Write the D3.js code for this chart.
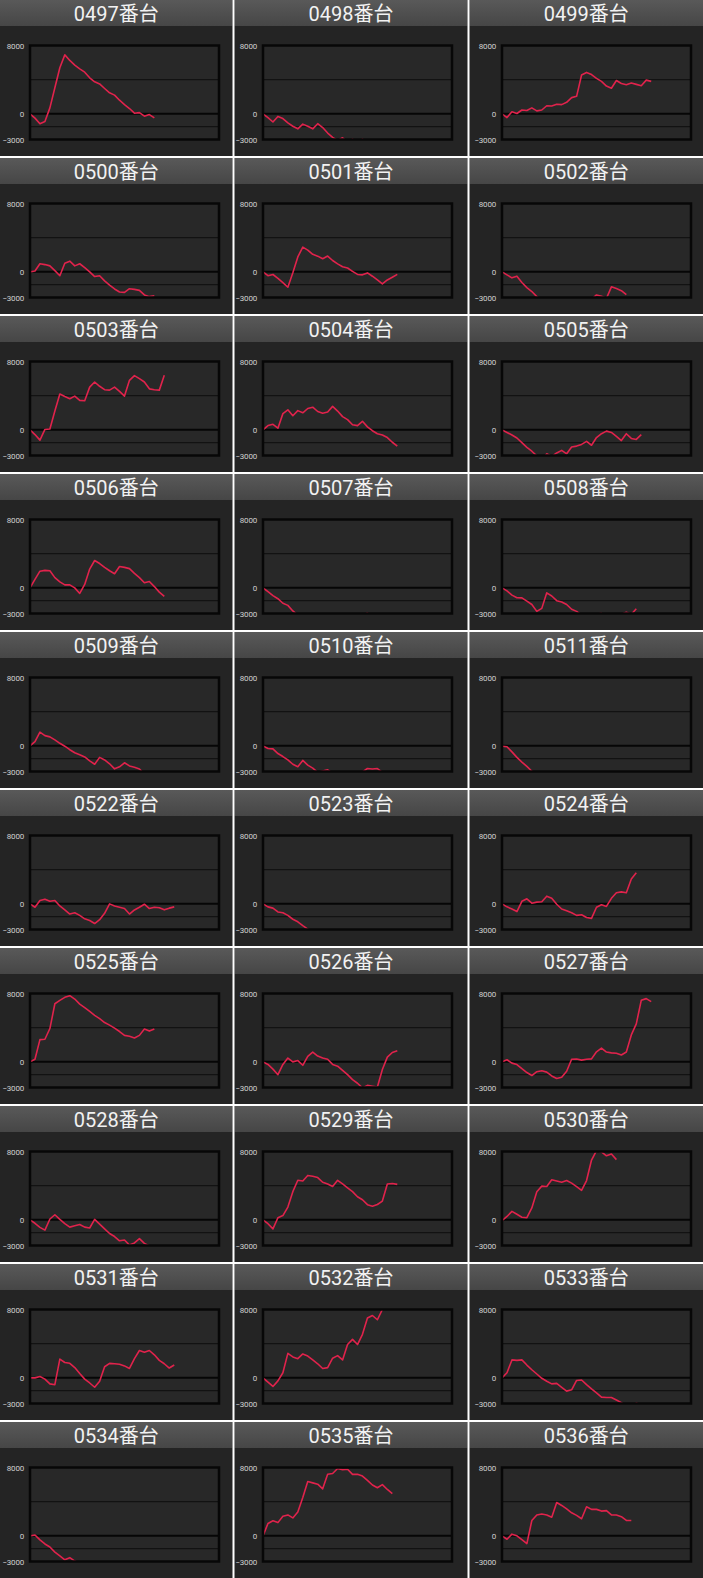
<!DOCTYPE html>
<html><head><meta charset="utf-8">
<script src="https://cdn.jsdelivr.net/npm/d3@7"></script>
<style>html,body{margin:0;padding:0;background:#242424;overflow:hidden}</style>
</head><body><svg id="c"></svg>
<script>
const titles = ["0497番台","0498番台","0499番台","0500番台","0501番台","0502番台","0503番台","0504番台","0505番台","0506番台","0507番台","0508番台","0509番台","0510番台","0511番台","0522番台","0523番台","0524番台","0525番台","0526番台","0527番台","0528番台","0529番台","0530番台","0531番台","0532番台","0533番台","0534番台","0535番台","0536番台"];
const yTicks = [8000, 0, -3000];
const gridValues = [4000, -1500];
const zeroValue = 0;
const xMax = 38;

const s0497 = [0,-500,-1150,-900,700,3050,5400,6900,6250,5700,5270,4880,4220,3750,3500,2970,2460,2190,1600,1090,625,80,150,-270,-80,-470];
const s0498 = [0,-450,-950,-300,-550,-1050,-1450,-1750,-1200,-1450,-1750,-1150,-1600,-2250,-2750,-3100,-2800,-3300,-2950,-3300,-2950,-3300];
const s0499 = [0,-430,250,40,450,400,700,350,450,950,920,1130,1080,1350,1900,2050,4550,4850,4600,4150,3800,3250,3000,3900,3550,3400,3600,3450,3300,3950,3800];
const s0500 = [0,100,950,850,700,150,-450,1000,1250,700,950,500,0,-550,-450,-1050,-1550,-2000,-2350,-2400,-1970,-2050,-2170,-2700,-2900,-2800];
const s0501 = [0,-450,-310,-750,-1250,-1800,-100,1750,2900,2550,2050,1840,1530,1850,1330,940,600,450,50,-300,-350,-120,-510,-940,-1400,-950,-630,-300];
const s0502 = [0,-350,-700,-500,-1250,-1850,-2300,-2900,-3300,-3700,-4100,-4300,-4000,-4500,-4200,-3900,-3600,-3300,-3200,-2700,-2850,-3100,-1750,-1950,-2200,-2650];
const s0503 = [0,-550,-1200,50,100,2200,4200,3900,3650,3950,3450,3400,5000,5600,5100,4700,4650,5000,4500,3950,5800,6350,6000,5600,4800,4700,4650,6400];
const s0504 = [0,500,650,200,1900,2350,1650,2250,2000,2500,2650,2150,1950,2100,2750,2200,1550,1200,600,500,1000,350,-100,-450,-600,-900,-1450,-1900];
const s0505 = [0,-300,-600,-950,-1500,-2050,-2500,-3050,-3500,-2800,-3100,-2700,-2400,-2800,-2000,-1900,-1700,-1350,-1800,-900,-450,-150,-300,-750,-1250,-450,-1000,-1120,-550];
const s0506 = [0,1000,1950,2050,2000,1200,700,350,350,0,-650,400,2200,3200,2850,2400,2000,1650,2500,2400,2250,1700,1200,600,750,150,-500,-1000];
const s0507 = [0,-450,-900,-1270,-1800,-2050,-2700,-3200,-3500,-3900,-4300,-4100,-4600,-4400,-4000,-3800,-4200,-3900,-3600,-3400,-3200,-2950,-3300];
const s0508 = [0,-350,-850,-1150,-1170,-1550,-1950,-2750,-2400,-580,-950,-1500,-1650,-1950,-2500,-2750,-3200,-3500,-3300,-3100,-2980,-3300,-3600,-3400,-3100,-2850,-3100,-2450];
const s0509 = [0,500,1600,1200,1050,700,300,-40,-450,-800,-1050,-1300,-1750,-2150,-1350,-1650,-2100,-2690,-2450,-1980,-2350,-2500,-2700,-3300];
const s0510 = [0,-300,-350,-900,-1250,-1650,-2150,-2450,-1700,-2250,-2600,-3100,-2950,-2800,-3200,-3700,-4000,-3800,-3500,-3300,-3050,-2650,-2700,-2650,-3100];
const s0511 = [-50,-100,-700,-1350,-1900,-2400,-2970,-3400];
const s0522 = [0,-400,400,550,300,400,-240,-700,-1190,-1050,-1350,-1750,-1950,-2300,-1850,-1100,0,-250,-400,-550,-1190,-710,-400,-40,-550,-400,-450,-700,-500,-350];
const s0523 = [0,-350,-500,-950,-1050,-1350,-1800,-2100,-2550,-2950,-3400];
const s0524 = [0,-350,-600,-900,300,590,80,200,250,900,650,-50,-600,-800,-1050,-1350,-1270,-1600,-1700,-400,-100,-300,650,1300,1400,1300,2900,3640];
const s0525 = [0,300,2600,2650,3900,6800,7200,7550,7750,7350,6750,6350,5900,5450,5050,4600,4300,3950,3550,3100,3000,2800,3100,3850,3600,3840];
const s0526 = [0,-300,-850,-1500,-300,450,0,150,-400,650,1150,680,450,300,-300,-500,-1000,-1500,-2080,-2500,-3050,-2750,-2850,-2950,-900,550,1100,1300];
const s0527 = [0,250,-150,-310,-800,-1250,-1600,-1150,-1050,-1200,-1650,-1950,-1800,-1100,300,330,200,300,350,1180,1600,1150,1050,1000,800,1150,3150,4450,7200,7400,7050];
const s0528 = [0,-400,-880,-1200,100,600,50,-450,-850,-700,-550,-850,-950,50,-500,-1050,-1600,-1950,-2450,-2350,-2950,-2700,-2200,-2750,-3050];
const s0529 = [0,-450,-1050,250,500,1500,3300,4630,4550,5200,5100,4950,4400,4200,3900,4630,4200,3750,3300,2700,2350,1780,1600,1800,2200,4200,4250,4150];
const s0530 = [-100,400,1000,650,300,250,1400,3300,3950,3900,4700,4550,4400,4600,4300,3900,3450,4600,7000,8100,7950,7500,7700,7050];
const s0531 = [0,0,150,-150,-700,-800,2200,1800,1700,1200,500,-150,-600,-1100,-400,1300,1700,1650,1600,1400,1100,2250,3200,3000,3200,2700,2050,1650,1150,1500];
const s0532 = [0,-500,-1000,-350,600,2870,2450,2250,2800,2550,2100,1650,1100,1200,2300,2600,2100,3900,4500,3900,5100,7000,7300,6800,8000];
const s0533 = [0,600,2100,2050,2100,1500,950,450,-50,-400,-700,-650,-1100,-1550,-1400,-300,-250,-800,-1300,-1750,-2250,-2300,-2300,-2600,-2900,-3300,-3500,-2950,-3200];
const s0534 = [0,100,-470,-950,-1300,-1900,-2350,-2800,-2550,-2950,-3200];
const s0535 = [0,1450,1770,1550,2300,2450,2100,2800,4500,6350,6200,6050,5500,7200,7300,7880,7750,7800,7200,7200,7000,6500,5950,5630,6000,5430,4950];
const s0536 = [0,-400,200,0,-450,-900,1800,2450,2550,2450,2180,3900,3560,3150,2700,2400,2000,3400,3100,3100,2900,2950,2450,2450,2250,1800,1800];

const seriesList = [s0497,s0498,s0499,s0500,s0501,s0502,s0503,s0504,s0505,s0506,s0507,s0508,s0509,s0510,s0511,s0522,s0523,s0524,s0525,s0526,s0527,s0528,s0529,s0530,s0531,s0532,s0533,s0534,s0535,s0536];

// ---- layout ----
const W = 703, H = 1578;
const rowPitch = 158;
const colLeft = [0, 234.5, 469.5], colRight = [232.5, 467.5, 703];
const frameLeft = [30, 263, 502];
const frameW = 189, frameH = 94, frameTopOff = 45.5, headerH = 26;

const svg = d3.select("#c").attr("width", W).attr("height", H);
const defs = svg.append("defs");
const grad = defs.append("linearGradient").attr("id", "hdr").attr("x1", 0).attr("y1", 0).attr("x2", 0).attr("y2", 1);
grad.append("stop").attr("offset", "0%").attr("stop-color", "#595959");
grad.append("stop").attr("offset", "100%").attr("stop-color", "#464646");

svg.append("rect").attr("width", W).attr("height", H).attr("fill", "#242424");

const x = d3.scaleLinear().domain([0, xMax]).range([0, frameW]);
const y = d3.scaleLinear().domain([-3000, 8000]).range([frameH, 0]);
const line = d3.line().x((d, i) => x(i)).y(d => y(d));

titles.forEach((t, i) => {
  const r = Math.floor(i / 3), c = i % 3;
  const top = r * rowPitch;
  const g = svg.append("g");
  g.append("rect").attr("x", colLeft[c]).attr("y", top)
    .attr("width", colRight[c] - colLeft[c]).attr("height", headerH).attr("fill", "url(#hdr)");
  g.append("text").attr("x", (colLeft[c] + colRight[c]) / 2).attr("y", top + 21)
    .attr("text-anchor", "middle").attr("fill", "#f2f2f2")
    .attr("font-family", "Roboto, 'Noto Sans CJK JP', sans-serif").attr("font-size", 20)
    .text(t);

  const pg = g.append("g").attr("transform", `translate(${frameLeft[c]},${top + frameTopOff})`);
  pg.append("rect").attr("width", frameW).attr("height", frameH).attr("fill", "#282828");
  const cid = "clip" + i;
  defs.append("clipPath").attr("id", cid).append("rect").attr("x", 0).attr("y", 0).attr("width", frameW).attr("height", frameH);

  pg.selectAll("line.grid").data(gridValues).enter().append("line")
    .attr("x1", 0).attr("x2", frameW).attr("y1", d => y(d)).attr("y2", d => y(d))
    .attr("stroke", "#121212").attr("stroke-width", 1.3);
  pg.append("line").attr("x1", 0).attr("x2", frameW).attr("y1", y(zeroValue)).attr("y2", y(zeroValue))
    .attr("stroke", "#060606").attr("stroke-width", 2);

  pg.append("path").datum(seriesList[i]).attr("d", line)
    .attr("clip-path", `url(#${cid})`)
    .attr("fill", "none").attr("stroke", "#e0234c").attr("stroke-width", 1.6)
    .attr("stroke-linejoin", "round");

  pg.append("rect").attr("width", frameW).attr("height", frameH)
    .attr("fill", "none").attr("stroke", "#070707").attr("stroke-width", 2.5);

  const ax = pg.append("g").call(d3.axisLeft(y).tickValues(yTicks).tickSize(0).tickPadding(6).tickFormat(d3.format("d")));
  ax.select(".domain").remove();
  ax.selectAll("text").attr("fill", "#d0d0d0").attr("font-size", 8)
    .attr("font-family", "Roboto, sans-serif").attr("letter-spacing", -0.2);
});

// white separators
for (let r = 1; r < 10; r++) {
  svg.append("rect").attr("x", 0).attr("y", r * rowPitch - 2).attr("width", W).attr("height", 2).attr("fill", "#ffffff");
}
[232.5, 467.5].forEach(xx => {
  svg.append("rect").attr("x", xx).attr("y", 0).attr("width", 2).attr("height", H).attr("fill", "#ffffff");
});
</script>
</body></html>
